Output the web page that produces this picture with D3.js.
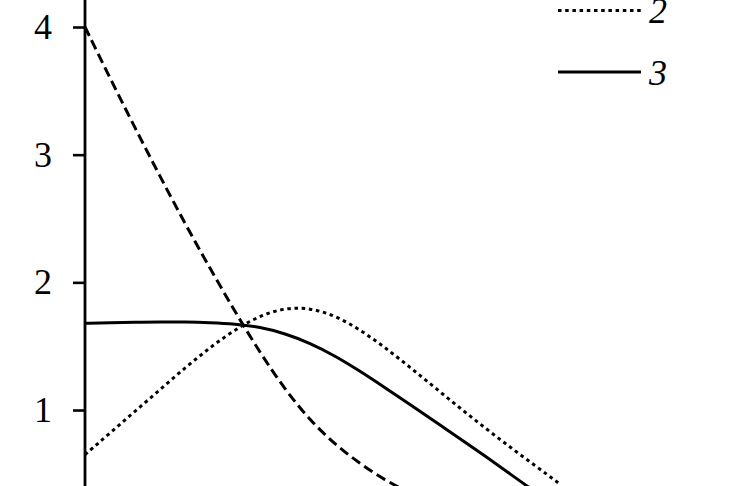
<!DOCTYPE html>
<html>
<head>
<meta charset="utf-8">
<script src="https://cdn.jsdelivr.net/npm/d3@7"></script>
<style>
  html, body { margin: 0; padding: 0; background: #fff; }
  svg { display: block; }
</style>
</head>
<body>
<div class="graf"></div>
<script>
// ---------------- data ----------------
const xValues = [0, 0.25, 0.5, 0.75, 1, 1.25, 1.5, 1.75, 2, 2.25,
                 2.5, 2.75, 3, 3.25, 3.5, 3.75, 4, 4.25, 4.5, 4.75];

// curve 1 (dashed)
const curve1 = [4.00, 3.60, 3.21, 2.83, 2.46, 2.11, 1.77, 1.45, 1.16, 0.92,
                0.73, 0.58, 0.45, 0.35, 0.26, 0.19, 0.14, 0.10, 0.07, 0.05];
// curve 2 (dotted)
const curve2 = [0.65, 0.82, 0.99, 1.16, 1.33, 1.49, 1.63, 1.74, 1.80, 1.80,
                1.74, 1.63, 1.49, 1.335, 1.175, 1.015, 0.86, 0.71, 0.565, 0.42];
// curve 3 (solid)
const curve3 = [1.68, 1.683, 1.687, 1.69, 1.69, 1.685, 1.675, 1.65, 1.60, 1.525,
                1.425, 1.305, 1.175, 1.045, 0.91, 0.775, 0.64, 0.50, 0.36, 0.23];

const yTicks = [1, 2, 3, 4];
const seriesNames = ['1', '2', '3'];

// ---------------- layout ----------------
main()
function main(){
    const width = 730, height = 486;
    const FONT = '"Liberation Serif", "Times New Roman", serif';

    const svg = d3.select('.graf')
        .append('svg')
        .attr('width', width)
        .attr('height', height);

    const x = d3.scaleLinear().domain([0, 6.45]).range([85, 730]);
    const y = d3.scaleLinear().domain([0, 4]).range([537.7, 27]);

    // styles per series
    const dash = ['10,5', '3.5,3.7', null];

    // axis
    const axisG = svg.append('g')
        .attr('transform', `translate(${x(0)},0)`)
        .call(d3.axisLeft(y).tickValues(yTicks).tickSize(12).tickPadding(21).tickFormat(d3.format('d')));
    axisG.select('.domain').remove();
    axisG.selectAll('.tick line').attr('stroke', '#000').attr('stroke-width', 2.6);
    axisG.selectAll('.tick text')
        .attr('fill', '#000')
        .style('font-family', FONT)
        .style('font-size', '36px');

    svg.append('line')
        .attr('x1', x(0)).attr('x2', x(0))
        .attr('y1', 0).attr('y2', height)
        .attr('stroke', '#000')
        .attr('stroke-width', 2.8);

    // curves
    const line = d3.line()
        .x((d, i) => x(xValues[i]))
        .y(d => y(d))
        .curve(d3.curveBasis);

    const curvesG = svg.append('g');
    [curve1, curve2, curve3].forEach((c, i) => {
        curvesG.append('path')
            .datum(c)
            .attr('d', line)
            .attr('fill', 'none')
            .attr('stroke', '#000')
            .attr('stroke-width', 3)
            .attr('stroke-dasharray', dash[i]);
    });

    // legend (entry "1" sits above the visible area)
    const legG = svg.append('g');
    seriesNames.forEach((name, i) => {
        const ly = 72 - (2 - i) * 61.5;
        if (ly < 0) return;
        legG.append('line')
            .attr('x1', 558).attr('x2', 641)
            .attr('y1', ly).attr('y2', ly)
            .attr('stroke', '#000')
            .attr('stroke-width', 3)
            .attr('stroke-dasharray', dash[i]);
        legG.append('text')
            .attr('x', 649)
            .attr('y', ly + 12.5)
            .attr('fill', '#000')
            .style('font-family', FONT)
            .style('font-size', '36px')
            .style('font-style', 'italic')
            .text(name);
    });
}
</script>
</body>
</html>
